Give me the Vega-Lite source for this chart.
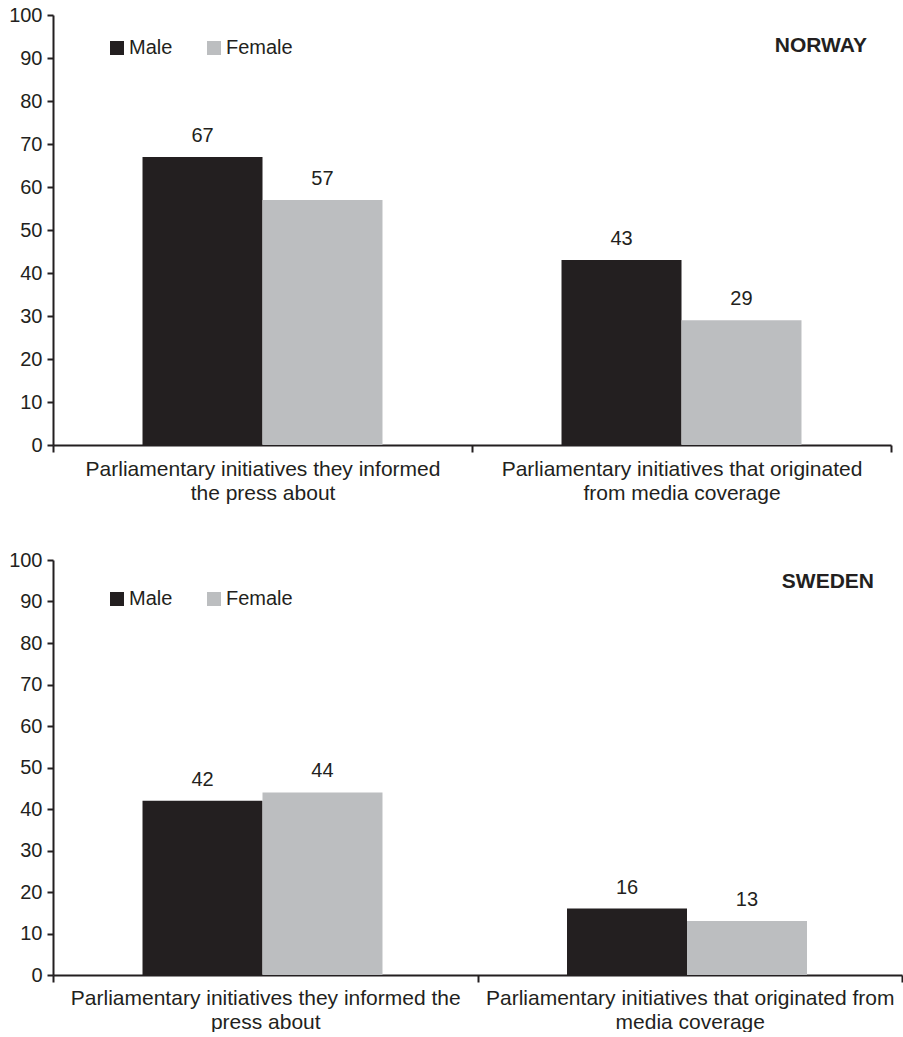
{
  "$schema": "https://vega.github.io/schema/vega-lite/v6.json",
  "padding": {"left": 8, "top": 5, "right": 0, "bottom": 0},
  "background": "white",
  "config": {
    "font": "Liberation Sans",
    "view": {"stroke": null},
    "axis": {"domainColor": "#231f20", "domainWidth": 2, "tickColor": "#231f20", "tickWidth": 2, "labelColor": "#231f20", "labelFontSize": 20, "title": null, "grid": false},
    "legend": {"orient": "none", "direction": "horizontal", "title": null, "symbolType": "square", "symbolSize": 196, "symbolStrokeWidth": 0, "labelFontSize": 20, "labelColor": "#231f20", "labelOffset": 2, "columnPadding": 31, "padding": 0, "legendX": 54, "legendY": 23},
    "title": {"anchor": "end", "frame": "group", "offset": 0, "baseline": "middle", "fontSize": 21, "fontWeight": "bold", "color": "#231f20"}
  },
  "spacing": 47,
  "resolve": {"legend": {"color": "independent"}},
  "vconcat": [
    {
      "width": 838,
      "height": 430,
      "title": {"text": "NORWAY", "dx": -24, "dy": 55},
      "data": {"values": [
        {"category": "Parliamentary initiatives they informed|the press about", "gender": "Male", "value": 67},
        {"category": "Parliamentary initiatives they informed|the press about", "gender": "Female", "value": 57},
        {"category": "Parliamentary initiatives that originated|from media coverage", "gender": "Male", "value": 43},
        {"category": "Parliamentary initiatives that originated|from media coverage", "gender": "Female", "value": 29}
      ]},
      "encoding": {
        "x": {"field": "category", "type": "nominal", "sort": null, "scale": {"paddingInner": 0, "paddingOuter": 0},
              "axis": {"labelExpr": "split(datum.label, '|')", "labelAngle": 0, "tickBand": "extent", "tickSize": 7, "labelPadding": 6, "labelFontSize": 21, "labelLineHeight": 24, "labelLimit": 0, "labelBaseline": "top"}},
        "xOffset": {"field": "gender", "type": "nominal", "sort": ["Male", "Female"], "scale": {"paddingInner": 0, "paddingOuter": 0.746}},
        "y": {"field": "value", "type": "quantitative", "scale": {"domain": [0, 100], "nice": false},
              "axis": {"values": [0, 10, 20, 30, 40, 50, 60, 70, 80, 90, 100], "tickSize": 6, "labelPadding": 5}}
      },
      "layer": [
        {"mark": {"type": "bar"},
         "encoding": {"color": {"field": "gender", "type": "nominal", "sort": ["Male", "Female"], "scale": {"domain": ["Male", "Female"], "range": ["#231f20", "#bcbec0"]}}}},
        {"mark": {"type": "text", "baseline": "alphabetic", "dy": -15, "fontSize": 20, "color": "#231f20"},
         "encoding": {"text": {"field": "value", "type": "quantitative"}}}
      ]
    },
    {
      "width": 849,
      "height": 415,
      "title": {"text": "SWEDEN", "dx": -28, "dy": 46},
      "data": {"values": [
        {"category": "Parliamentary initiatives they informed the|press about", "gender": "Male", "value": 42},
        {"category": "Parliamentary initiatives they informed the|press about", "gender": "Female", "value": 44},
        {"category": "Parliamentary initiatives that originated from|media coverage", "gender": "Male", "value": 16},
        {"category": "Parliamentary initiatives that originated from|media coverage", "gender": "Female", "value": 13}
      ]},
      "encoding": {
        "x": {"field": "category", "type": "nominal", "sort": null, "scale": {"paddingInner": 0, "paddingOuter": 0},
              "axis": {"labelExpr": "split(datum.label, '|')", "labelAngle": 0, "tickBand": "extent", "tickSize": 7, "labelPadding": 5, "labelFontSize": 21, "labelLineHeight": 24, "labelLimit": 0, "labelBaseline": "top"}},
        "xOffset": {"field": "gender", "type": "nominal", "sort": ["Male", "Female"], "scale": {"paddingInner": 0, "paddingOuter": 0.754}},
        "y": {"field": "value", "type": "quantitative", "scale": {"domain": [0, 100], "nice": false},
              "axis": {"values": [0, 10, 20, 30, 40, 50, 60, 70, 80, 90, 100], "tickSize": 6, "labelPadding": 5}}
      },
      "layer": [
        {"mark": {"type": "bar"},
         "encoding": {"color": {"field": "gender", "type": "nominal", "sort": ["Male", "Female"], "scale": {"domain": ["Male", "Female"], "range": ["#231f20", "#bcbec0"]}, "legend": {"legendY": 29}}}},
        {"mark": {"type": "text", "baseline": "alphabetic", "dy": -15, "fontSize": 20, "color": "#231f20"},
         "encoding": {"text": {"field": "value", "type": "quantitative"}}}
      ]
    }
  ]
}
